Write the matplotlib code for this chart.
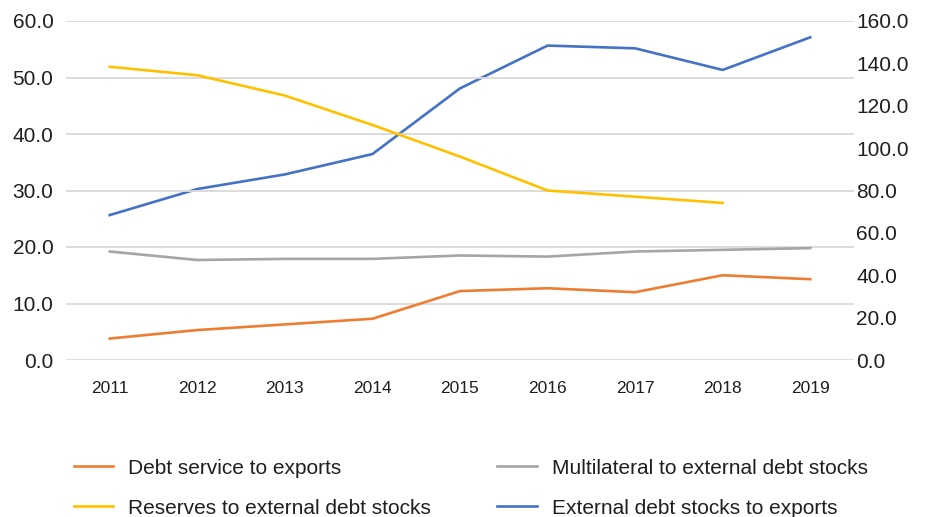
import matplotlib
matplotlib.use("Agg")
import matplotlib.pyplot as plt

years = ["2011", "2012", "2013", "2014", "2015", "2016", "2017", "2018", "2019"]
debt_service = [3.8, 5.3, 6.3, 7.3, 12.2, 12.7, 12.0, 15.0, 14.3]
multilateral = [19.2, 17.7, 17.9, 17.9, 18.5, 18.3, 19.2, 19.5, 19.8]
reserves = [51.9, 50.4, 46.8, 41.6, 36.0, 30.0, 28.9, 27.8]
ext_debt = [68.4, 80.7, 87.6, 97.2, 128.2, 148.4, 147.1, 136.9, 152.3]

plt.rcParams['font.family'] = ['Liberation Sans', 'DejaVu Sans']

fig = plt.figure(figsize=(9.29, 5.17), dpi=100)
ax = fig.add_axes([66/929, 1 - 360/517, (854-66)/929, (360-21)/517])
ax2 = ax.twinx()

x = list(range(len(years)))
lw = 1.9
l1, = ax.plot(x, debt_service, color='#ED7D31', lw=lw, label='Debt service to exports')
l2, = ax.plot(x[:len(reserves)], reserves, color='#FFC000', lw=lw, label='Reserves to external debt stocks')
l3, = ax.plot(x, multilateral, color='#A5A5A5', lw=lw, label='Multilateral to external debt stocks')
l4, = ax2.plot(x, ext_debt, color='#4472C4', lw=lw, label='External debt stocks to exports')

ax.set_xlim(-0.5, len(years) - 0.5)
ax.set_ylim(0, 60)
ax2.set_ylim(0, 160)
ax.set_yticks(range(0, 61, 10))
ax2.set_yticks(range(0, 161, 20))
ax.set_yticklabels([f"{v:.1f}" for v in range(0, 61, 10)])
ax2.set_yticklabels([f"{v:.1f}" for v in range(0, 161, 20)])
ax.set_xticks(x)
ax.set_xticklabels(years, fontsize=12.5)

ax.grid(axis='y', color='#D9D9D9', lw=1.3)
ax.set_axisbelow(True)
for a in (ax, ax2):
    for s in a.spines.values():
        s.set_visible(False)
    a.tick_params(length=0, colors='#1f1f1f', labelsize=15)
ax.tick_params(axis='x', labelsize=12.5, pad=15)
ax.tick_params(axis='y', pad=9)
ax2.tick_params(axis='y', pad=1.5)
ax.set_zorder(ax2.get_zorder() + 1)
ax.patch.set_visible(False)

fig.legend(handles=[l1, l2, l3, l4], ncol=2, loc='upper left',
           bbox_to_anchor=(55/929, 1 - 440/517), frameon=False, fontsize=15,
           handlelength=1.9, handletextpad=0.7, columnspacing=3.2,
           labelspacing=1.0, labelcolor='#1f1f1f')

fig.savefig("out.png", dpi=100)
